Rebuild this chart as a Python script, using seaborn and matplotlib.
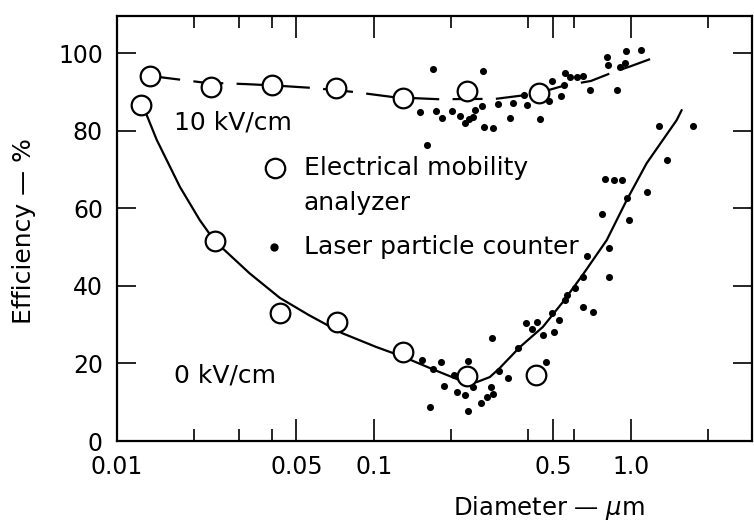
import pandas as pd
import matplotlib.pyplot as plt
import seaborn as sns

# electrical mobility analyzer (open circles)
ema10_d = [0.0135, 0.0232, 0.0402, 0.0713, 0.130, 0.231, 0.440]
ema10_eff = [94.1, 91.2, 91.8, 90.9, 88.3, 90.3, 89.6]
ema0_d = [0.0124, 0.0240, 0.0431, 0.0718, 0.130, 0.230, 0.427]
ema0_eff = [86.6, 51.6, 32.9, 30.7, 23.0, 16.8, 17.0]

# laser particle counter (dots)
lpc_d = [0.170, 0.266, 0.151, 0.174, 0.185, 0.201, 0.216, 0.226, 0.234, 0.243,
         0.247, 0.263, 0.268, 0.290, 0.304, 0.338, 0.348, 0.394, 0.384, 0.443,
         0.480, 0.493, 0.534, 0.548, 0.554, 0.579, 0.617, 0.650, 0.692, 0.807,
         0.814, 0.881, 0.906, 0.948, 0.957, 1.094, 0.161,
         1.285, 1.742, 1.380, 0.792, 0.859, 0.923, 1.153, 0.965, 0.771, 0.982,
         0.821, 0.674, 0.821, 0.650, 0.605, 0.564, 0.554, 0.650, 0.711, 0.493,
         0.525, 0.390, 0.431, 0.412, 0.455, 0.501, 0.288, 0.363, 0.306, 0.332,
         0.467, 0.154, 0.170, 0.182, 0.205, 0.232, 0.187, 0.210, 0.226, 0.243,
         0.285, 0.290, 0.275, 0.261, 0.232, 0.165]
lpc_eff = [95.8, 95.5, 84.8, 85.1, 83.2, 85.1, 83.8, 82.0, 83.0, 83.5,
           85.3, 86.3, 80.9, 80.7, 86.9, 83.2, 87.1, 86.6, 89.2, 83.0,
           87.6, 92.8, 88.9, 91.8, 94.8, 93.8, 93.8, 94.1, 90.5, 99.0,
           96.9, 90.5, 96.4, 97.4, 100.5, 100.8, 76.3,
           81.2, 81.2, 72.4, 67.5, 67.3, 67.3, 64.2, 62.6, 58.5, 57.0,
           49.7, 47.7, 42.3, 42.3, 39.4, 37.6, 36.3, 34.5, 33.2, 33.0,
           31.2, 30.4, 30.7, 28.9, 27.3, 28.1, 26.5, 24.0, 18.0, 16.2,
           20.4, 20.9, 18.6, 20.4, 17.0, 20.6, 14.2, 12.6, 11.9, 13.9,
           13.9, 12.1, 11.3, 9.8, 7.7, 8.8]

# hand-drawn curves
fit10_d = [0.0135, 0.0155, 0.0217, 0.0317, 0.042, 0.058, 0.0828, 0.1207,
           0.179, 0.2985, 0.427, 0.55, 0.70, 0.85, 1.0, 1.22]
fit10_eff = [94.1, 93.6, 92.4, 92.0, 91.6, 91.0, 90.0, 88.6,
             88.1, 88.2, 89.5, 91.6, 92.8, 95.0, 96.6, 98.7]
fit0_d = [0.0126, 0.0143, 0.0176, 0.0210, 0.0240, 0.0329, 0.0431, 0.0558,
          0.0754, 0.1018, 0.1304, 0.1727, 0.2161, 0.2517, 0.283, 0.309,
          0.370, 0.455, 0.544, 0.650, 0.807, 0.965, 1.154, 1.51, 1.58]
fit0_eff = [86.6, 77.6, 65.5, 57.0, 51.6, 43.2, 36.9, 32.5,
            27.8, 24.3, 21.7, 18.3, 15.7, 15.2, 16.5, 18.8,
            24.2, 29.4, 35.8, 42.8, 51.8, 62.1, 71.6, 82.7, 85.3]

major_x = [0.01, 0.05, 0.1, 0.5, 1.0]
major_x_labels = ["0.01", "0.05", "0.1", "0.5", "1.0"]
minor_x = [0.02, 0.03, 0.04, 0.2, 0.4, 0.6, 2.0]
y_ticks = [0, 20, 40, 60, 80, 100]

sns.set_style("ticks")
plt.rcParams['font.family'] = ['DejaVu Sans']
for key in ["text.color", "axes.labelcolor", "xtick.color", "ytick.color", "axes.edgecolor"]:
    plt.rcParams[key] = "black"
fs = 18
fs_tick = 17

fig = plt.figure(figsize=(7.54, 5.22), dpi=100)
ax = fig.add_axes([0.155, 0.155, 0.842, 0.814])

c10 = pd.DataFrame({"d": fit10_d, "eff": fit10_eff})
c0 = pd.DataFrame({"d": fit0_d, "eff": fit0_eff})
sns.lineplot(data=c10, x="d", y="eff", sort=False, estimator=None, color="black",
             lw=1.6, ax=ax)
ax.lines[-1].set_dashes((13.5, 6))
sns.lineplot(data=c0, x="d", y="eff", sort=False, estimator=None, color="black",
             lw=1.6, ax=ax)

lpc = pd.DataFrame({"d": lpc_d, "eff": lpc_eff})
sns.scatterplot(data=lpc, x="d", y="eff", color="black", s=26, linewidth=0, ax=ax, zorder=3)

ema = pd.DataFrame({"d": ema10_d + ema0_d, "eff": ema10_eff + ema0_eff})
sns.scatterplot(data=ema, x="d", y="eff", facecolor="white", edgecolor="black",
                s=200, linewidth=1.6, ax=ax, zorder=4)

ax.set_xscale("log")
ax.set_xlim(0.01, 2.96)
ax.set_ylim(0, 109.5)
ax.set_xticks(major_x)
ax.set_xticklabels(major_x_labels)
ax.set_xticks(minor_x, minor=True)
ax.xaxis.set_minor_formatter(plt.NullFormatter())
ax.set_yticks(y_ticks)
ax.set_yticklabels([str(v) for v in y_ticks])

ax.tick_params(axis="x", which="major", direction="in", length=16, width=1.2,
               top=True, labelsize=fs_tick, pad=10)
ax.tick_params(axis="x", which="minor", direction="in", length=8.5, width=1.2, top=True)
ax.tick_params(axis="y", direction="in", length=14, width=1.2, right=True,
               labelsize=fs_tick, pad=10)
for sp in ax.spines.values():
    sp.set_linewidth(1.6)
    sp.set_visible(True)

ax.set_xlabel("Diameter — $\\mu$m", fontsize=17.5)
ax.set_ylabel("Efficiency — %", fontsize=fs)
ax.xaxis.set_label_coords(0.68, -0.125)
ax.yaxis.set_label_coords(-0.128, 0.495)

ax.text(0.0167, 82, "10 kV/cm", fontsize=fs, va="center", ha="left")
ax.text(0.0167, 17, "0 kV/cm", fontsize=fs, va="center", ha="left")

# key
ax.plot([0.0412], [70.4], "o", ms=14, mfc="white", mec="black", mew=1.6)
ax.plot([0.041], [50], "o", ms=5, color="black")
ax.text(0.0535, 70.4, "Electrical mobility", fontsize=fs, va="center")
ax.text(0.0535, 61.4, "analyzer", fontsize=fs, va="center")
ax.text(0.0535, 50, "Laser particle counter", fontsize=fs, va="center")

fig.savefig("out.png", dpi=100)
